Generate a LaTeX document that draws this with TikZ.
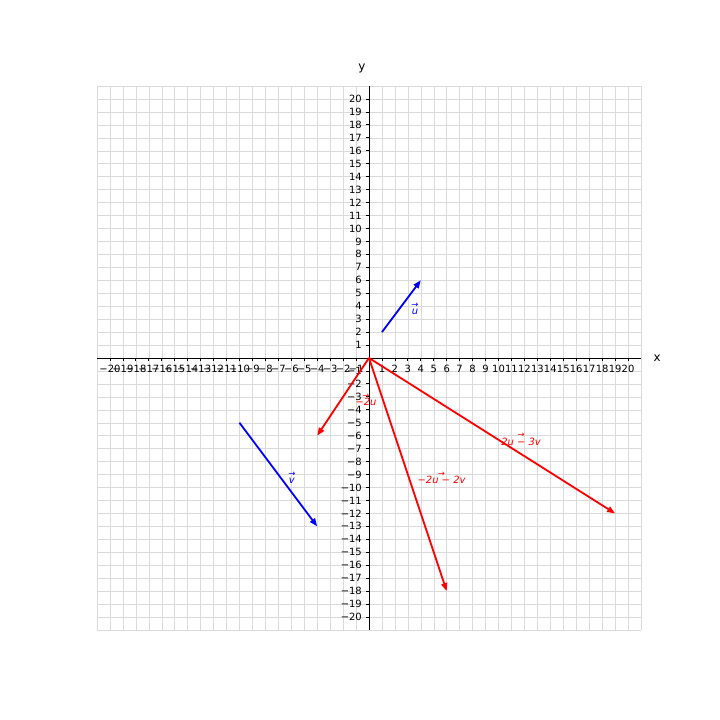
\documentclass[tikz,border=0pt]{standalone}
\usepackage{fontspec}
\setmainfont{DejaVu Sans}
\usetikzlibrary{arrows.meta}
\definecolor{gridc}{RGB}{218,218,218}
\newcommand\veclab[1]{\setbox0\hbox{\itshape #1}\makebox[\wd0]{\raisebox{7.5bp}[0pt][0pt]{\fontsize{8.5}{8.5}\selectfont →}}\kern-\wd0\box0}
\begin{document}
\begin{tikzpicture}[x=12.95bp,y=12.95bp,
  tick/.style={line width=0.8bp},
  ticklab/.style={font=\fontsize{10}{12}\selectfont, inner sep=0pt},
  vecblue/.style={draw={rgb,255:red,0;green,0;blue,255}, line width=1.8bp, -{Triangle[length=8bp,width=6bp]}},
  vecred/.style={draw={rgb,255:red,255;green,0;blue,0}, line width=1.8bp, -{Triangle[length=8bp,width=6bp]}},
  lab/.style={font=\fontsize{10}{10}\selectfont, inner sep=0pt}]
\useasboundingbox (-28.49,-27.95) rectangle (27.10,27.64);
% grid
\draw[gridc, line width=0.5bp, step=1] (-21,-21) grid (21,21);
% axes
\coordinate (xl) at (-21,0); \coordinate (xr) at (21,0);
\coordinate (yb) at (0,-21); \coordinate (yt) at (0,21);
\draw[line width=0.8bp] (xl) -- (xr);
\draw[line width=0.8bp] (yb) -- (yt);
% ticks
\foreach \i in {-20,...,20} {
  \draw[tick] (\i,0) -- ++(0,-3.5bp);
  \draw[tick] (0,\i) -- ++(-3.5bp,0);
}
\foreach \i in {1,...,20} {
  \node[ticklab, anchor=base] (xp\i) at ([yshift=-14.6bp]\i,0) {\i};
  \node[ticklab, anchor=base] (xn\i) at ([yshift=-14.6bp]-\i,0) {−\i};
  \node[ticklab, anchor=base east] (yp\i) at ([xshift=-7bp,yshift=-3.6bp]0,\i) {\i};
  \node[ticklab, anchor=base east] (yn\i) at ([xshift=-7bp,yshift=-3.6bp]0,-\i) {−\i};
}
\node[font=\fontsize{12}{12}\selectfont, inner sep=0pt] (xlab) at (22.24,0) {x};
\node[font=\fontsize{12}{12}\selectfont, inner sep=0pt] (ylab) at (-0.54,22.32) {y};
% vectors
\coordinate (O) at (0,0);
\coordinate (u0) at (1,2); \coordinate (u1) at (4,6);
\coordinate (v0) at (-10,-5); \coordinate (v1) at (-4,-13);
\coordinate (a1) at (-4,-6);
\coordinate (b1) at (19,-12);
\coordinate (c1) at (6,-18);
\draw[vecblue] (u0) -- (u1);
\draw[vecblue] (v0) -- (v1);
\draw[vecred] (O) -- (a1);
\draw[vecred] (O) -- (b1);
\draw[vecred] (O) -- (c1);
% labels
\node[lab, text=blue] (ul) at (3.55,3.55) {\veclab{u}};
\node[lab, text=blue] (vl) at (-5.96,-9.5) {\veclab{v}};
\node[lab, text=red] (al) at (-0.23,-3.4) {\veclab{−2u}};
\node[lab, text=red] (bl) at (11.74,-6.45) {\veclab{2u − 3v}};
\node[lab, text=red] (cl) at (5.6,-9.42) {\veclab{−2u − 2v}};
\end{tikzpicture}
\end{document}
